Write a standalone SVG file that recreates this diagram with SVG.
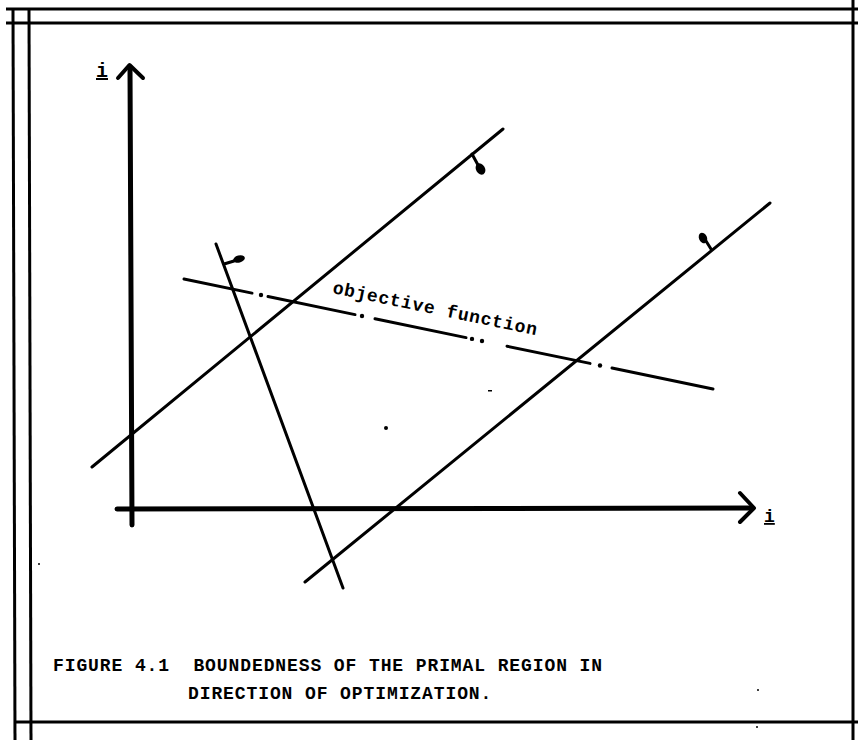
<svg xmlns="http://www.w3.org/2000/svg" width="858" height="740" viewBox="0 0 858 740">
<style>
.frame{stroke:#000;stroke-width:3;fill:none}
.axis{stroke:#000;stroke-width:5;fill:none;stroke-linecap:round}
.head{stroke:#000;stroke-width:4;fill:none;stroke-linecap:round;stroke-linejoin:round}
.con{stroke:#000;stroke-width:3;fill:none;stroke-linecap:round}
.obj{stroke:#000;stroke-width:3;fill:none;stroke-linecap:round}
.blob{fill:#000}
.tw{font-family:"Liberation Mono","DejaVu Sans Mono",monospace;font-weight:bold;fill:#000}
.cap{font-size:18px;letter-spacing:0.9px;white-space:pre}
</style>
<rect width="858" height="740" fill="#fff"/>
<g id="frame" class="frame">
<line x1="6" y1="9" x2="858" y2="9"/>
<line x1="6" y1="23" x2="858" y2="23"/>
<line x1="13" y1="9" x2="15" y2="740"/>
<line x1="29" y1="9" x2="31" y2="740"/>
<line x1="853" y1="0" x2="853" y2="740"/>
<line x1="14" y1="722" x2="858" y2="722"/>
</g>
<g id="axes">
<line class="axis" x1="130" y1="67" x2="132" y2="525"/>
<polyline class="head" points="118,78 129.5,65 143,78"/>
<line class="axis" x1="117" y1="509" x2="752" y2="508"/>
<polyline class="head" points="740,493 754,508 740,522"/>
<text class="tw" x="96" y="77" font-size="20" text-decoration="underline">i</text>
<text class="tw" x="764" y="522" font-size="18" text-decoration="underline">i</text>
</g>
<g id="constraint-a">
<line class="con" x1="92" y1="467" x2="503" y2="129"/>
<line class="con" x1="472" y1="154" x2="478" y2="165"/>
<ellipse class="blob" cx="480.5" cy="169" rx="4.5" ry="6" transform="rotate(-30 480.5 169)"/>
</g>
<g id="constraint-b">
<line class="con" x1="305" y1="582" x2="770" y2="203"/>
<line class="con" x1="711" y1="249" x2="706" y2="241"/>
<ellipse class="blob" cx="703" cy="238" rx="4" ry="5.5" transform="rotate(-25 703 238)"/>
</g>
<g id="constraint-c">
<line class="con" x1="216" y1="244" x2="343" y2="588"/>
<line class="con" x1="224" y1="264" x2="234" y2="261"/>
<ellipse class="blob" cx="239" cy="259" rx="6" ry="3.5" transform="rotate(-15 239 259)"/>
</g>
<g id="objective">
<line class="obj" x1="184" y1="279" x2="252" y2="293.1"/>
<circle class="blob" cx="261" cy="295" r="2.2"/>
<line class="obj" x1="268" y1="296.5" x2="355" y2="314.6"/>
<circle class="blob" cx="362" cy="316" r="2.2"/>
<line class="obj" x1="375" y1="318.7" x2="466" y2="337.6"/>
<circle class="blob" cx="472" cy="338.9" r="2.2"/>
<circle class="blob" cx="482" cy="341" r="2.2"/>
<line class="obj" x1="507" y1="346.2" x2="590" y2="363.4"/>
<circle class="blob" cx="600" cy="365.5" r="2.2"/>
<line class="obj" x1="612" y1="368" x2="713" y2="389"/>
<text class="tw" x="332" y="293" font-size="18" letter-spacing="0.8" transform="rotate(11.7 332 293)">objective function</text>
</g>
<g id="specks" fill="#000">
<circle cx="386" cy="428" r="2"/>
<rect x="488" y="390" width="4" height="1.5"/>
<circle cx="39" cy="564" r="1"/>
<circle cx="758" cy="690" r="1"/>
<circle cx="757" cy="727" r="1"/>
</g>
<g id="caption">
<text class="tw cap" x="53" y="671" xml:space="preserve">FIGURE 4.1  BOUNDEDNESS OF THE PRIMAL REGION IN</text>
<text class="tw cap" x="188" y="699">DIRECTION OF OPTIMIZATION.</text>
</g>
</svg>
